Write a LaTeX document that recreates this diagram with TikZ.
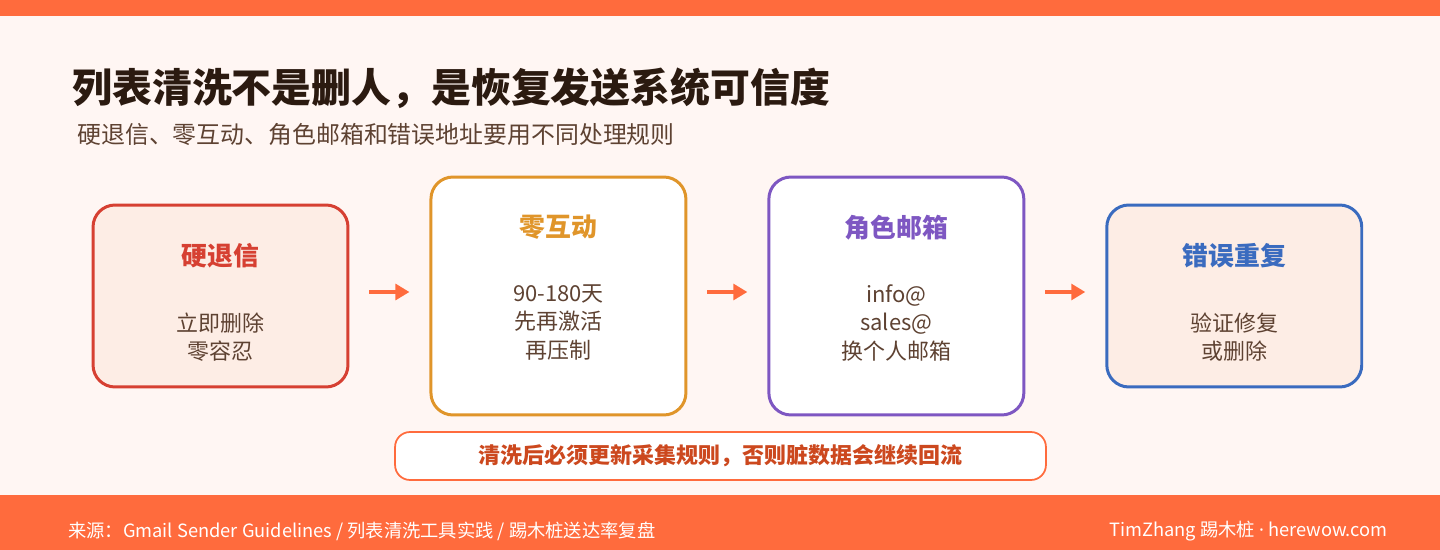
\documentclass[tikz,border=0pt]{standalone}
\usepackage{fontspec}
\setmainfont{Noto Sans CJK SC}
\newfontfamily\latinsans{Noto Sans}
\usetikzlibrary{arrows.meta,positioning}
\definecolor{pageorange}{RGB}{255,107,61}
\definecolor{pagebg}{RGB}{255,246,243}
\definecolor{inkdark}{RGB}{43,26,16}
\definecolor{inkbrown}{RGB}{94,66,50}
\definecolor{hardred}{RGB}{214,64,50}
\definecolor{softfill}{RGB}{253,237,229}
\definecolor{zeroamber}{RGB}{224,149,42}
\definecolor{rolepurple}{RGB}{126,87,194}
\definecolor{errblue}{RGB}{58,107,191}
\definecolor{noteink}{RGB}{204,72,30}

\begin{document}
\begin{tikzpicture}[x=0.02cm,y=-0.02cm,
      card/.style={rectangle,rounded corners=0.44cm,line width=1.7pt,fill=white,
        minimum width=5.1cm,minimum height=3.64cm},
      tall/.style={minimum height=4.76cm},
      cardtitle/.style={font=\fontsize{14.7}{18}\selectfont\bfseries,inner sep=0pt},
      cardbody/.style={font=\fontsize{12.5}{16.2}\selectfont,text=inkbrown,align=center,inner sep=0pt},
      flow/.style={-{Triangle[length=8pt,width=9pt]},line width=2.3pt,pageorange,
        shorten <=0.4cm,shorten >=0.4cm}
    ]
    % page
    \fill[pagebg] (0,0) rectangle (1440,550);
    \fill[pageorange] (0,0) rectangle (1440,16);
    \fill[pageorange] (0,495) rectangle (1440,550);
    \useasboundingbox (0,0) rectangle (1440,550);

    \node[anchor=west,inner sep=0pt,text=inkdark,font=\fontsize{22.7}{26}\selectfont\bfseries] (title) at (72,88)
      {列表清洗不是删人，是恢复发送系统可信度};
    \node[anchor=west,inner sep=0pt,text=inkbrown,font=\fontsize{13.6}{16}\selectfont] (subtitle) at (77,134)
      {硬退信、零互动、角色邮箱和错误地址要用不同处理规则};

    % cards
    \node[card,draw=hardred,fill=softfill] (hard) at (220.5,296) {};
    \node[card,tall,draw=zeroamber,right=1.6cm of hard] (zero) {};
    \node[card,tall,draw=rolepurple,right=1.6cm of zero] (role) {};
    \node[card,draw=errblue,fill=softfill,right=1.6cm of role] (err) {};

    \node[cardtitle,text=hardred] (hardhead) at ([yshift=-1.04cm]hard.north) {硬退信};
    \node[cardbody,below=0.88cm of hardhead] (hardbody) {立即删除\\零容忍};
    \node[cardtitle,text=zeroamber] (zerohead) at ([yshift=-1.04cm]zero.north) {零互动};
    \node[cardbody,below=0.88cm of zerohead] (zerobody) {90-180天\\先再激活\\再压制};
    \node[cardtitle,text=rolepurple] (rolehead) at ([yshift=-1.04cm]role.north) {角色邮箱};
    \node[cardbody,below=0.88cm of rolehead] (rolebody) {info@\\sales@\\换个人邮箱};
    \node[cardtitle,text=errblue] (errhead) at ([yshift=-1.04cm]err.north) {错误重复};
    \node[cardbody,below=0.88cm of errhead] (errbody) {验证修复\\或删除};

    \draw[flow] ([yshift=0.08cm]hard.east) -- ([yshift=0.08cm]zero.west);
    \draw[flow] ([yshift=0.08cm]zero.east) -- ([yshift=0.08cm]role.west);
    \draw[flow] ([yshift=0.08cm]role.east) -- ([yshift=0.08cm]err.west);

    \node[rectangle,rounded corners=0.3cm,draw=pageorange,line width=1pt,fill=white,
      minimum width=13.02cm,minimum height=0.96cm,text=noteink,
      font=\fontsize{12.5}{15}\selectfont\bfseries] (note) at (720.5,456)
      {清洗后必须更新采集规则，否则脏数据会继续回流};

    % footer
    \node[anchor=west,inner sep=0pt,text=white,font=\fontsize{10.4}{12}\selectfont] (source) at (68,531)
      {来源：Gmail Sender Guidelines / 列表清洗工具实践 / 踢木桩送达率复盘};
    \node[anchor=east,inner sep=0pt,text=white,font=\fontsize{10.4}{12}\selectfont] (credit) at (1388,531)
      {TimZhang 踢木桩 {\latinsans·} herewow.com};
  \end{tikzpicture}
\end{document}
